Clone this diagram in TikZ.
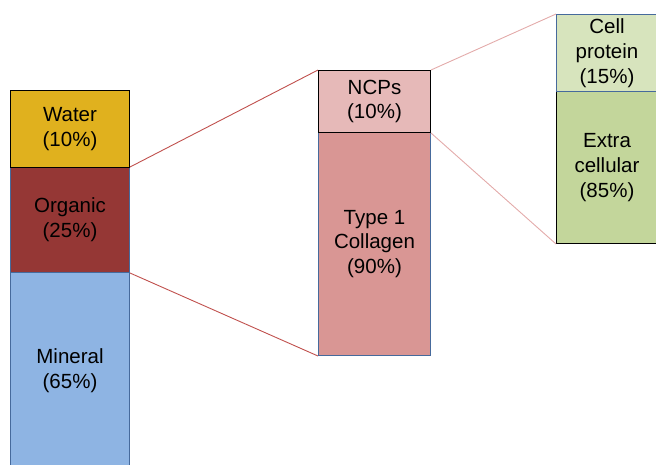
\documentclass[tikz,border=0pt]{standalone}
\usepackage{fontspec}
\setmainfont{Liberation Sans}
\begin{document}
\begin{tikzpicture}[x=1pt,y=-1pt,
  seg/.style={anchor=north west,inner sep=0pt,align=center,line width=1pt,
    font=\fontsize{20.5}{24.8}\selectfont},
  dark/.style={draw=black},
  link/.style={line width=0.9pt}]
\useasboundingbox (0,0) rectangle (656,464);
\definecolor{cWater}{HTML}{E0B11E}
\definecolor{cOrg}{HTML}{953735}
\definecolor{cMin}{HTML}{8EB4E3}
\definecolor{cNcp}{HTML}{E6B9B8}
\definecolor{cCol}{HTML}{D99694}
\definecolor{cCell}{HTML}{D7E4BD}
\definecolor{cExt}{HTML}{C3D69B}
\definecolor{cRed}{HTML}{C0504D}
\definecolor{cPink}{HTML}{E3ABAA}
\definecolor{cBord}{HTML}{466A9C}
\begin{scope}
\clip (0,0) rectangle (656,464);
% left column
\node[seg,fill=cMin,draw=cBord,minimum width=119pt,minimum height=196pt] (min) at (10,272) {Mineral\\(65\%)};
\node[seg,fill=cOrg,draw=cBord,minimum width=119pt,minimum height=105pt] (org) at (10,167) {Organic\\(25\%)};
\node[seg,fill=cWater,dark,minimum width=119pt,minimum height=77pt] (wat) at (10,90) {Water\\(10\%)};
% middle column
\node[seg,fill=cCol,draw=cBord,minimum width=112pt,minimum height=223pt] (col) at (318,132) {Type 1\\Collagen\\(90\%)};
\node[seg,fill=cNcp,dark,minimum width=112pt,minimum height=62pt] (ncp) at (318,70) {NCPs\\(10\%)};
% right column
\node[seg,fill=cExt,dark,minimum width=101pt,minimum height=152pt] (ext) at (556,91) {Extra\\cellular\\(85\%)};
\node[seg,fill=cCell,draw=cBord,minimum width=101pt,minimum height=77pt] (cell) at (556,14) {Cell\\protein\\(15\%)};
\end{scope}
% connectors
\draw[link,cRed] (org.north east) -- (ncp.north west);
\draw[link,cRed] (org.south east) -- (col.south west);
\draw[link,cPink] (ncp.north east) -- (cell.north west);
\draw[link,cPink] (ncp.south east) -- (ext.south west);
\end{tikzpicture}
\end{document}
